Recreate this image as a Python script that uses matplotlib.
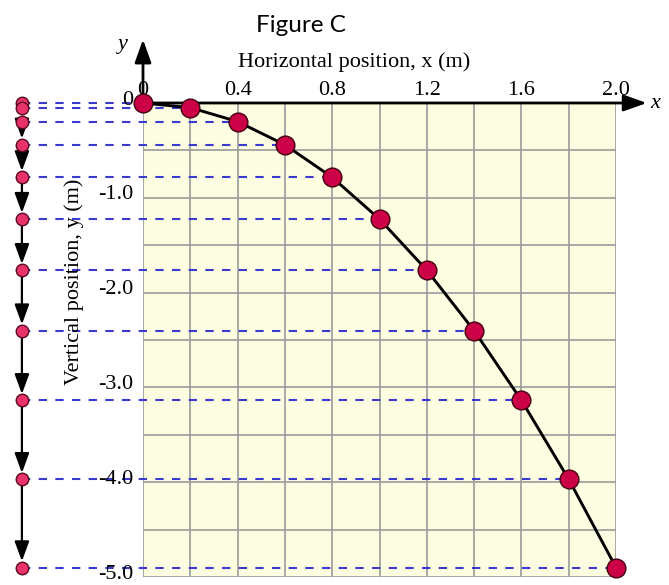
import numpy as np
import matplotlib
matplotlib.use("Agg")
import matplotlib.pyplot as plt

# positions (m)
x_pos = [0.0, 0.2, 0.4, 0.6, 0.8, 1.0, 1.2, 1.4, 1.6, 1.8, 2.0]
y_pos = [0.0, -0.049, -0.196, -0.441, -0.784, -1.225, -1.764, -2.401, -3.136, -3.969, -4.9]

x_ticks = [0.0, 0.4, 0.8, 1.2, 1.6, 2.0]
x_tick_labels = ["0", "0.4", "0.8", "1.2", "1.6", "2.0"]
y_ticks = [0.0, -1.0, -2.0, -3.0, -4.0, -5.0]
y_tick_labels = ["0", "-1.0", "-2.0", "-3.0", "-4.0", "-5.0"]

W, H = 669, 585
fig = plt.figure(figsize=(W / 100, H / 100), dpi=100)
ax = fig.add_axes([143 / W, 1 - 577 / H, (616 - 143) / W, (577 - 103) / H])
ax.set_xlim(0, 2.0)
ax.set_ylim(-5.0, 0)
ax.set_facecolor("#fdfde2")
for s in ax.spines.values():
    s.set_visible(False)
ax.set_xticks([])
ax.set_yticks([])

serif = "Liberation Serif"
grid_c = "#9a9a9a"
for gx in np.arange(0, 2.01, 0.2):
    ax.axvline(gx, color=grid_c, lw=1.2, zorder=1)
for gy in np.arange(-5.0, 0.01, 0.5):
    ax.axhline(gy, color=grid_c, lw=1.2, zorder=1)

x_left = -0.512

# dashed guide lines
for xp, yp in zip(x_pos, y_pos):
    ax.plot([x_left, xp], [yp, yp], color="#3a3acc", lw=1.5, ls=(0, (4, 4)),
            clip_on=False, zorder=2)

# vertical-motion arrows on the left
for i in range(2, len(y_pos) - 1):
    ax.annotate("", xy=(x_left, y_pos[i + 1]), xytext=(x_left, y_pos[i]),
                arrowprops=dict(arrowstyle="-|>,head_length=0.6,head_width=0.22",
                                color="black", lw=1.6, mutation_scale=20,
                                shrinkA=4, shrinkB=4.5),
                annotation_clip=False, zorder=3)

ax.plot([x_left] * len(y_pos), y_pos, "o", ms=9, mfc="#e8326a", mec="#5a0a20",
        mew=1.0, ls="none", clip_on=False, zorder=5)

# axes with arrows
ax.annotate("", xy=(2.13, 0), xytext=(0, 0),
            arrowprops=dict(arrowstyle="-|>,head_length=0.7,head_width=0.25",
                            color="black", lw=2, mutation_scale=20, shrinkA=0, shrinkB=0),
            annotation_clip=False, zorder=4)
ax.annotate("", xy=(0, 0.67), xytext=(0, 0),
            arrowprops=dict(arrowstyle="-|>,head_length=0.7,head_width=0.25",
                            color="black", lw=2, mutation_scale=20, shrinkA=0, shrinkB=0),
            annotation_clip=False, zorder=4)
ax.text(2.165, 0, "x", family=serif, style="italic", fontsize=16, ha="center",
        va="center")
ax.text(-0.085, 0.62, "y", family=serif, style="italic", fontsize=16, ha="center",
        va="center")

# trajectory
ax.plot(x_pos, y_pos, color="black", lw=2.1, clip_on=False, zorder=6)
ax.plot(x_pos, y_pos, "o", ms=13.5, mfc="#cc0046", mec="#40000f", mew=1.0,
        ls="none", clip_on=False, zorder=7)

# tick labels
for xt, lab in zip(x_ticks, x_tick_labels):
    ax.text(xt, 0.085, lab, family=serif, fontsize=16, ha="center", va="baseline")
for yt, lab in zip(y_ticks, y_tick_labels):
    ax.text(-0.042, yt + 0.03, lab, family=serif, fontsize=16, ha="right",
            va="center", zorder=4)

ax.text(0.892, 0.38, "Horizontal position, x (m)", family=serif, fontsize=16,
        ha="center", va="baseline")
ax.text(-0.292, -1.89, "Vertical position, y (m)", family=serif, fontsize=16,
        ha="center", va="center", rotation=90)

fig.text(301 / W, 1 - 32 / H, "Figure C", family="Lato", fontsize=17.5,
         ha="center", va="baseline")

fig.savefig("out.png", dpi=100)
